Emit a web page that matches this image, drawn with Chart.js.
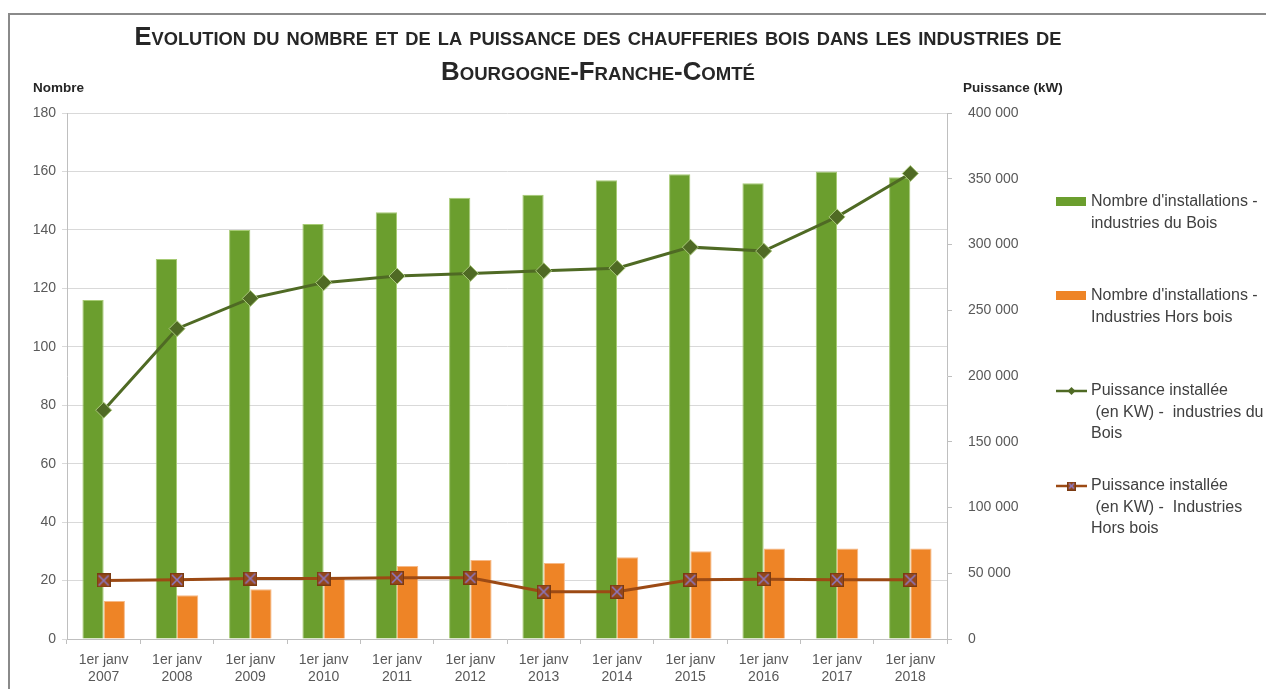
<!DOCTYPE html>
<html><head><meta charset="utf-8">
<script src="https://cdn.jsdelivr.net/npm/chart.js@4.4.1/dist/chart.umd.min.js"></script>
<style>
html,body{margin:0;padding:0;background:#fff;}
#wrap{position:relative;width:1266px;height:689px;overflow:hidden;background:#fff;}
#frame{position:absolute;left:8px;top:13px;width:1300px;height:720px;border-left:2px solid #8a8a8a;border-top:2px solid #8a8a8a;}
.t{position:absolute;left:0;width:1197px;text-align:center;white-space:nowrap;}
.t span{display:inline-block;font-family:"Liberation Sans Narrow","Liberation Sans",Arial,sans-serif;font-weight:bold;font-variant:small-caps;font-size:25px;color:#262626;transform-origin:50% 50%;}
canvas{position:absolute;left:0;top:0;}
</style></head>
<body>
<div id="wrap">
<div id="frame"></div>
<canvas id="c" width="1266" height="689"></canvas>
<div class="t" style="top:22px"><span id="t1">Evolution du nombre et de la puissance des chaufferies bois dans les industries de</span></div>
<div class="t" style="top:57px"><span id="t2">Bourgogne-Franche-Comté</span></div>
</div>
<script>
// ---- data ----
const years = ['2007','2008','2009','2010','2011','2012','2013','2014','2015','2016','2017','2018'];
const xLabels = years.map(y => ['1er janv', y]);
const nbBois = [116,130,140,142,146,151,152,157,159,156,160,158];
const nbHorsBois = [13,15,17,21,25,27,26,28,30,31,31,31];
const puisBois = [174000,236000,259000,271000,276000,278000,280000,282000,298000,295000,321000,354000];
const puisHorsBois = [44500,45000,46000,46000,46500,46500,36000,36000,45000,45500,45000,45000];
const leftTicks = [0,20,40,60,80,100,120,140,160,180];
const rightTicks = [0,50000,100000,150000,200000,250000,300000,350000,400000];
const legendLines = [
  ["Nombre d'installations -","industries du Bois"],
  ["Nombre d'installations -","Industries Hors bois"],
  ["Puissance installée"," (en KW) -  industries du","Bois"],
  ["Puissance installée"," (en KW) -  Industries","Hors bois"]
];
const axisTitleLeft = 'Nombre';
const axisTitleRight = 'Puissance (kW)';

// ---- colours ----
const GREEN_BAR = '#6B9E2E', GREEN_BAR_EDGE = '#A7CB75';
const ORANGE_BAR = '#EE8426', ORANGE_BAR_EDGE = '#F6B987';
const GREEN_LINE = '#4F6A24', GREEN_MARK_EDGE = '#A9C77A';
const BROWN_LINE = '#9C4A14', BROWN_MARK = '#94461A', PURPLE_X = '#8C78C0';

// fit the title lines
function fit(id, w){const el=document.getElementById(id);const cw=el.getBoundingClientRect().width;el.style.transform='scaleX('+(w/cw)+')';}
fit('t1',927); fit('t2',314);

function makeSquare(size){
  const c=document.createElement('canvas');c.width=c.height=size;
  const g=c.getContext('2d');
  g.fillStyle=BROWN_MARK;g.fillRect(0,0,size,size);
  g.strokeStyle='#7A3A12';g.lineWidth=1;g.strokeRect(0.5,0.5,size-1,size-1);
  g.strokeStyle=PURPLE_X;g.lineWidth=1.6;g.beginPath();
  g.moveTo(2,2);g.lineTo(size-2,size-2);g.moveTo(size-2,2);g.lineTo(2,size-2);g.stroke();
  return c;
}
const sqBig = makeSquare(14), sqSmall = makeSquare(9);

Chart.defaults.font.family = '"Liberation Sans", Arial, sans-serif';
const fmt = v => String(v).replace(/\B(?=(\d{3})+(?!\d))/g,' ');

const decor = {
  id:'decor',
  afterDraw(chart){
    const ctx=chart.ctx; ctx.save();
    // axis titles
    ctx.fillStyle='#262626'; ctx.font='bold 13.5px "Liberation Sans", Arial'; ctx.textBaseline='middle'; ctx.textAlign='left';
    ctx.fillText(axisTitleLeft, 33, 88);
    ctx.fillText(axisTitleRight, 963, 88);
    // legend
    const ds = chart.data.datasets;
    const order = [2,3,0,1];
    const tops = [202,296,391,486];
    ctx.font='16px "Liberation Sans", Arial'; ctx.textBaseline='middle';
    order.forEach((di,i)=>{
      const d = ds[di]; const y = tops[i];
      if (d.type === 'bar') {
        ctx.fillStyle = d.backgroundColor; ctx.fillRect(1056, y-5, 30, 9);
      } else {
        ctx.strokeStyle = d.borderColor; ctx.lineWidth = 2.5;
        ctx.beginPath(); ctx.moveTo(1056,y); ctx.lineTo(1087,y); ctx.stroke();
        if (di === 0) {
          ctx.fillStyle = GREEN_LINE; ctx.beginPath();
          ctx.moveTo(1071.5,y-4);ctx.lineTo(1075.5,y);ctx.lineTo(1071.5,y+4);ctx.lineTo(1067.5,y);ctx.closePath();ctx.fill();
        } else {
          ctx.drawImage(sqSmall, 1067, y-4.5);
        }
      }
      ctx.fillStyle='#404040';
      legendLines[i].forEach((t,k)=>ctx.fillText(t, 1091, y + k*21.3));
    });
    ctx.restore();
  }
};

new Chart(document.getElementById('c'), {
  type:'bar',
  data:{
    labels:xLabels,
    datasets:[
      {type:'line', label:legendLines[2].join(' '), data:puisBois, yAxisID:'y2', borderColor:GREEN_LINE, borderWidth:3,
       pointStyle:'rectRot', pointRadius:8, pointBackgroundColor:GREEN_LINE, pointBorderColor:GREEN_MARK_EDGE, pointBorderWidth:1, tension:0, order:1},
      {type:'line', label:legendLines[3].join(' '), data:puisHorsBois, yAxisID:'y2', borderColor:BROWN_LINE, borderWidth:3,
       pointStyle:sqBig, tension:0, order:0},
      {type:'bar', label:legendLines[0].join(' '), data:nbBois, yAxisID:'y', backgroundColor:GREEN_BAR, borderColor:GREEN_BAR_EDGE, borderWidth:1,
       categoryPercentage:0.58, barPercentage:1, order:2},
      {type:'bar', label:legendLines[1].join(' '), data:nbHorsBois, yAxisID:'y', backgroundColor:ORANGE_BAR, borderColor:ORANGE_BAR_EDGE, borderWidth:1,
       categoryPercentage:0.58, barPercentage:1, order:3}
    ]
  },
  options:{
    responsive:false, animation:false,
    layout:{padding:{top:113,left:0,right:0,bottom:0}},
    plugins:{legend:{display:false}, tooltip:{enabled:false}, title:{display:false}},
    scales:{
      x:{offset:true, grid:{offset:true, drawOnChartArea:false, tickLength:5, color:'#bfbfbf'}, border:{color:'#bfbfbf'},
         ticks:{color:'#595959', font:{size:14, lineHeight:1.2}, maxRotation:0, autoSkip:false, padding:8},
         afterFit:s=>{s.height=50;}},
      y:{position:'left', min:0, max:180, afterBuildTicks:s=>{s.ticks=leftTicks.map(v=>({value:v}));},
         ticks:{color:'#595959', font:{size:14}, padding:6},
         grid:{color:'#d9d9d9', tickLength:5}, border:{color:'#bfbfbf'},
         afterFit:s=>{s.width=67;}},
      y2:{position:'right', min:0, max:400000, afterBuildTicks:s=>{s.ticks=rightTicks.map(v=>({value:v}));},
         ticks:{color:'#595959', font:{size:14}, padding:16, callback:v=>fmt(v)},
         grid:{drawOnChartArea:false, color:'#bfbfbf', tickLength:5}, border:{color:'#bfbfbf'},
         afterFit:s=>{s.width=319;}}
    }
  },
  plugins:[decor]
});
</script>
</body></html>
